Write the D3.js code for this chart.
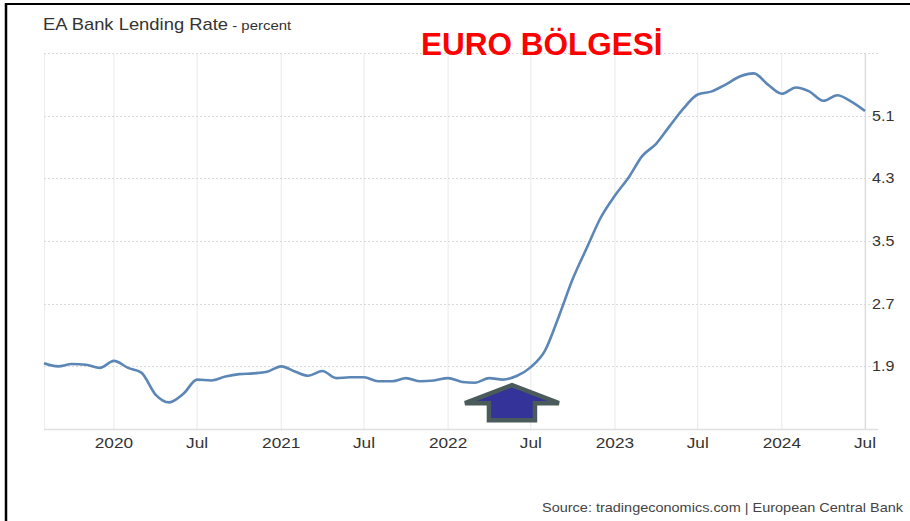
<!DOCTYPE html>
<html>
<head>
<meta charset="utf-8">
<script src="https://cdn.jsdelivr.net/npm/d3@7"></script>
<style>
  html, body { margin: 0; padding: 0; background: #fff; }
  svg { display: block; font-family: "Liberation Sans", Arial, sans-serif; }
</style>
</head>
<body>
<div id="graph"></div>
<script>
var width = 910, height = 521, sx = 1.15  // the screenshot text is a bit wide

// monthly, Aug 2019 .. Jul 2024
var months = [
  '2019-08','2019-09','2019-10','2019-11','2019-12',
  '2020-01','2020-02','2020-03','2020-04','2020-05','2020-06','2020-07','2020-08','2020-09','2020-10','2020-11','2020-12',
  '2021-01','2021-02','2021-03','2021-04','2021-05','2021-06','2021-07','2021-08','2021-09','2021-10','2021-11','2021-12',
  '2022-01','2022-02','2022-03','2022-04','2022-05','2022-06','2022-07','2022-08','2022-09','2022-10','2022-11','2022-12',
  '2023-01','2023-02','2023-03','2023-04','2023-05','2023-06','2023-07','2023-08','2023-09','2023-10','2023-11','2023-12',
  '2024-01','2024-02','2024-03','2024-04','2024-05','2024-06','2024-07'
]
var rates = [
  1.94, 1.90, 1.93, 1.92, 1.88,
  1.97, 1.88, 1.82, 1.54, 1.44, 1.55, 1.73, 1.72, 1.77, 1.80, 1.81, 1.83,
  1.90, 1.83, 1.78, 1.84, 1.75, 1.76, 1.76, 1.71, 1.71, 1.75, 1.71, 1.72,
  1.75, 1.70, 1.69, 1.75, 1.73, 1.78, 1.89, 2.10, 2.55, 3.02, 3.42, 3.80,
  4.08, 4.32, 4.58, 4.74, 4.97, 5.20, 5.37, 5.41, 5.50, 5.60, 5.64, 5.50,
  5.38, 5.46, 5.41, 5.29, 5.36, 5.28, 5.16
]
var yTicks = [1.9, 2.7, 3.5, 4.3, 5.1]
var yGrid = [1.9, 2.7, 3.5, 4.3, 5.1, 5.9]

var title = 'EA Bank Lending Rate', unit = ' - percent'
var banner = 'EURO BÖLGESİ'
var source = 'Source: tradingeconomics.com | European Central Bank'

var parse = d3.timeParse('%Y-%m')
var data = months.map(function(m, i){ return {date: parse(m), v: rates[i]} })

var x = d3.scaleTime()
    .domain([parse('2019-08'), parse('2024-07')])
    .range([44, 865])
var y = d3.scaleLinear().domain([1.1, 5.9]).range([429, 53])

var svg = d3.select('#graph').append('svg')
    .attr('width', width).attr('height', height)

// frame lines (left / top)
svg.append('line').attr('x1', 6).attr('x2', 6).attr('y1', 3).attr('y2', height)
    .attr('stroke', '#000').attr('stroke-width', 2.5)
svg.append('line').attr('x1', 5).attr('x2', width).attr('y1', 4).attr('y2', 4)
    .attr('stroke', '#000').attr('stroke-width', 2)

// vertical grid
var xTicks = x.ticks(d3.timeMonth.every(6)).filter(function(d){ return d > x.domain()[0] })
svg.append('g').selectAll('line').data(xTicks).enter().append('line')
    .attr('x1', x).attr('x2', x).attr('y1', 53).attr('y2', 429)
    .attr('stroke', '#e9e9e9').attr('stroke-width', 1)

svg.append('line').attr('x1', 44.5).attr('x2', 44.5).attr('y1', 53).attr('y2', 429)
    .attr('stroke', '#ececec')
svg.append('line').attr('x1', 865.5).attr('x2', 865.5).attr('y1', 53).attr('y2', 429)
    .attr('stroke', '#dcdcdc').attr('stroke-width', 1.2)

// horizontal grid
svg.append('g').selectAll('line').data(yGrid).enter().append('line')
    .attr('x1', 44).attr('x2', 878)
    .attr('y1', function(d){ return Math.round(y(d)) + 0.5 })
    .attr('y2', function(d){ return Math.round(y(d)) + 0.5 })
    .attr('stroke', '#d9d9d9').attr('stroke-dasharray', '2,2')

// bottom axis line
svg.append('line').attr('x1', 44).attr('x2', 878).attr('y1', 429.5).attr('y2', 429.5)
    .attr('stroke', '#e0e0e0').attr('stroke-width', 1.5)

// axis labels
var fmt = function(d){ return d.getMonth() === 0 ? d3.timeFormat('%Y')(d) : d3.timeFormat('%b')(d) }
svg.append('g').selectAll('text').data(xTicks).enter().append('text')
    .attr('transform', function(d){ return 'translate(' + x(d) + ',448) scale(' + sx + ',1)' })
    .attr('text-anchor', 'middle')
    .attr('font-size', 15).attr('fill', '#333')
    .text(fmt)

svg.append('g').selectAll('text').data(yTicks).enter().append('text')
    .attr('transform', function(d){ return 'translate(872,' + (y(d) + 5) + ') scale(' + sx + ',1)' })
    .attr('font-size', 14).attr('fill', '#333')
    .text(d3.format('.1f'))

// the line
var line = d3.line()
    .x(function(d){ return x(d.date) })
    .y(function(d){ return y(d.v) })
    .curve(d3.curveMonotoneX)

svg.append('path').datum(data)
    .attr('d', line)
    .attr('fill', 'none')
    .attr('stroke', '#5b86b6')
    .attr('stroke-width', 2.6)
    .attr('stroke-linejoin', 'round')

// up arrow annotation, anchored to the chart scales
var ax = x(parse('2022-05')) + 9, ay = y(1.66)
var arrow = [[0, 0], [47, 18], [23, 18], [23, 35], [-23, 35], [-23, 18], [-47, 18]]
svg.append('path')
    .attr('d', 'M' + arrow.map(function(p){ return [ax + p[0], ay + p[1]] }).join('L') + 'Z')
    .attr('fill', '#333399')
    .attr('stroke', '#4b5a5b')
    .attr('stroke-width', 4.5)
    .attr('stroke-linejoin', 'miter')

// titles
var t = svg.append('text').attr('transform', 'translate(43,30) scale(' + sx + ',1)').attr('fill', '#333')
t.append('tspan').attr('font-size', 16).text(title)
t.append('tspan').attr('font-size', 13).text(unit)

svg.append('text')
    .attr('x', 421).attr('y', 54.5)
    .attr('font-size', 31.5).attr('font-weight', 'bold')
    .attr('fill', '#ff0000')
    .text(banner)

svg.append('text')
    .attr('transform', 'translate(903,512) scale(' + sx + ',1)')
    .attr('text-anchor', 'end')
    .attr('font-size', 12.6).attr('fill', '#444')
    .text(source)
</script>
</body>
</html>
